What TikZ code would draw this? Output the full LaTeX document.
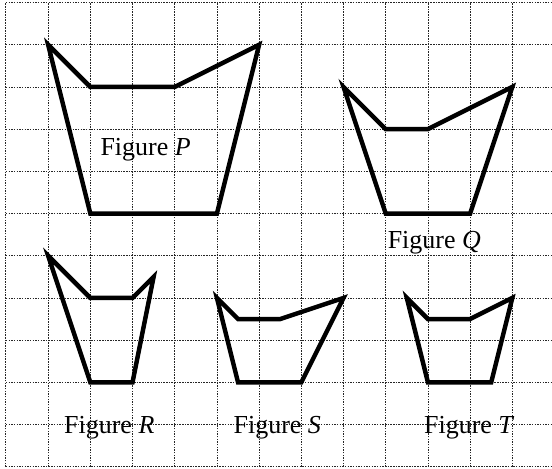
\documentclass[tikz,border=0pt]{standalone}
\usepackage{fontspec}
\setmainfont{Liberation Serif}
\begin{document}
\begin{tikzpicture}[x=1cm, y=1cm,
    gridline/.style={black!85, line width=0.55pt, dash pattern=on 1pt off 0.8pt},
    outline/.style={line width=3pt, line join=miter},
    figlabel/.style={anchor=base, inner sep=0pt, font=\fontsize{17.5}{20}\selectfont}]
    \useasboundingbox (-0.14,-0.03) rectangle (12.94,11.06);

    % Dotted grid
    \foreach \i in {0,...,12} \draw[gridline] (\i,0) -- (\i,11);
    \foreach \j in {0,...,11} \draw[gridline] (0,\j) -- (12.94,\j);

    % Figure P
    \draw[outline] (1,10) -- (2,9) -- (4,9) -- (6,10) -- (5,6) -- (2,6) -- cycle;
    % Figure Q
    \draw[outline] (8,9) -- (9,8) -- (10,8) -- (12,9) -- (11,6) -- (9,6) -- cycle;
    % Figure R
    \draw[outline] (1,5) -- (2,4) -- (3,4) -- (3.5,4.5) -- (3,2) -- (2,2) -- cycle;
    % Figure S
    \draw[outline] (5,4) -- (5.5,3.5) -- (6.5,3.5) -- (8,4) -- (7,2) -- (5.5,2) -- cycle;
    % Figure T
    \draw[outline] (9.5,4) -- (10,3.5) -- (11,3.5) -- (12,4) -- (11.5,2) -- (10,2) -- cycle;

    % Labels
    \node[figlabel] (labelP) at (3.31,7.38) {Figure \textit{P}};
    \node[figlabel] (labelQ) at (10.15,5.18) {Figure \textit{Q}};
    \node[figlabel] (labelR) at (2.45,0.78) {Figure \textit{R}};
    \node[figlabel] (labelS) at (6.43,0.79) {Figure \textit{S}};
    \node[figlabel] (labelT) at (10.98,0.78) {Figure \textit{T}};
\end{tikzpicture}
\end{document}
